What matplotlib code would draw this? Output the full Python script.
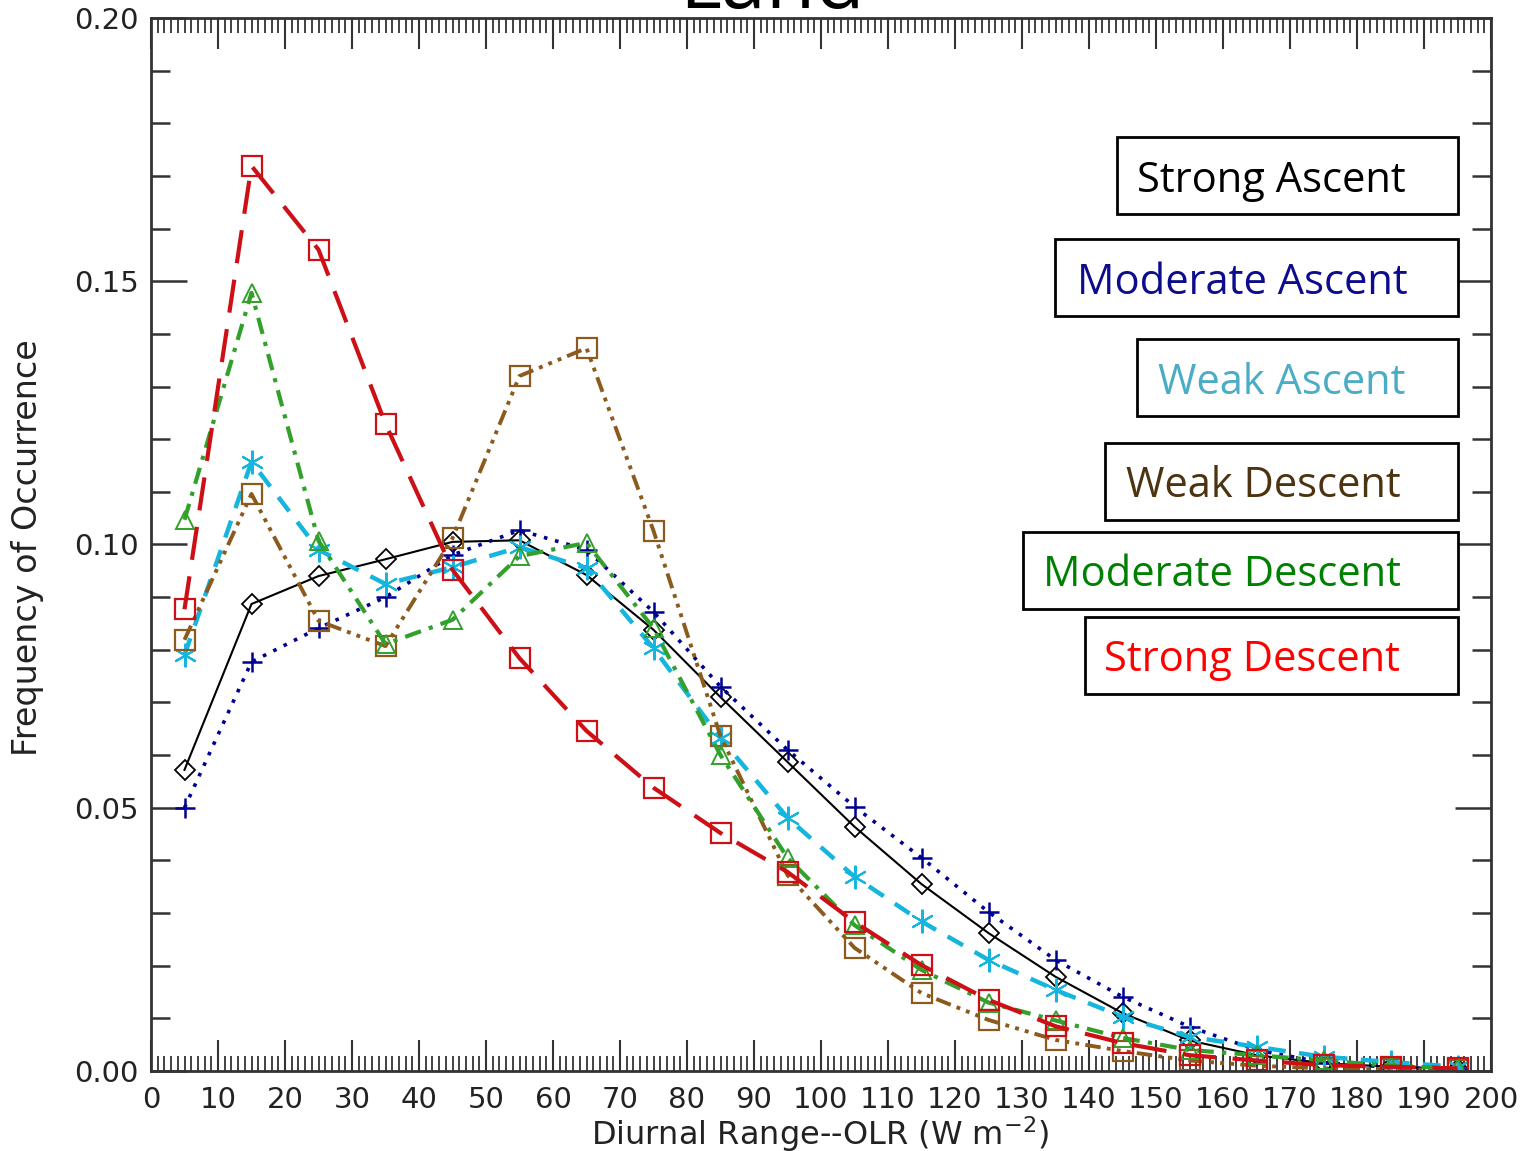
import numpy as np
import matplotlib
matplotlib.use('Agg')
import matplotlib.pyplot as plt
from matplotlib.patches import Rectangle
from matplotlib.ticker import MultipleLocator

# diurnal range bins (W m-2)
olr_bins = [5, 15, 25, 35, 45, 55, 65, 75, 85, 95,
            105, 115, 125, 135, 145, 155, 165, 175, 185, 195]

strong_ascent = [0.0572, 0.0887, 0.0940, 0.0972, 0.1005, 0.1008, 0.0942, 0.0838, 0.0710, 0.0587,
                 0.0464, 0.0355, 0.0262, 0.0179, 0.0110, 0.0058, 0.0030, 0.0015, 0.0008, 0.0004]
moderate_ascent = [0.0500, 0.0777, 0.0841, 0.0900, 0.0980, 0.1027, 0.0990, 0.0872, 0.0730, 0.0610,
                   0.0502, 0.0405, 0.0302, 0.0211, 0.0141, 0.0084, 0.0040, 0.0016, 0.0007, 0.0003]
weak_ascent = [0.0790, 0.1157, 0.0990, 0.0925, 0.0957, 0.0995, 0.0955, 0.0803, 0.0632, 0.0481,
               0.0369, 0.0284, 0.0211, 0.0154, 0.0103, 0.0065, 0.0046, 0.0027, 0.0017, 0.0008]
weak_descent = [0.0819, 0.1096, 0.0855, 0.0807, 0.1012, 0.1320, 0.1373, 0.1026, 0.0636, 0.0372,
                0.0234, 0.0148, 0.0097, 0.0059, 0.0038, 0.0020, 0.0010, 0.0005, 0.0003, 0.0002]
moderate_descent = [0.1047, 0.1478, 0.1007, 0.0811, 0.0857, 0.0978, 0.1003, 0.0841, 0.0600, 0.0405,
                    0.0277, 0.0192, 0.0130, 0.0096, 0.0063, 0.0040, 0.0030, 0.0020, 0.0010, 0.0005]
strong_descent = [0.0877, 0.1719, 0.1560, 0.1229, 0.0952, 0.0784, 0.0646, 0.0538, 0.0452, 0.0378,
                  0.0283, 0.0201, 0.0135, 0.0085, 0.0053, 0.0030, 0.0020, 0.0011, 0.0008, 0.0005]

labels = ['Strong Ascent', 'Moderate Ascent', 'Weak Ascent',
          'Weak Descent', 'Moderate Descent', 'Strong Descent']
label_colors = ['black', '#0c0c8c', '#4bacc6', '#4d3410', '#008000', '#ff0000']

W, H = 1526, 1151
fig = plt.figure(figsize=(W / 100, H / 100), dpi=100)
ax = fig.add_axes([151 / W, 1 - 1071 / H, (1491 - 151) / W, (1071 - 18) / H])

asterisk = (6, 2, 0)
ax.plot(olr_bins, strong_ascent, color='black', lw=1.5, ls='-',
        marker='D', ms=10, mfc='none', mew=1.3)
ax.plot(olr_bins, moderate_ascent, color='#000090', lw=2.6, ls=(0, (1, 2.2)),
        marker='+', ms=15, mew=1.8)
ax.plot(olr_bins, weak_ascent, color='#15b5de', lw=3.2, ls=(0, (4, 3)),
        marker=asterisk, ms=17, mew=1.5)
ax.plot(olr_bins, weak_descent, color='#8c5a1c', lw=2.8, ls=(0, (4, 1.6, 1, 1.6, 1, 1.6, 1, 1.6)),
        marker='s', ms=14, mfc='none', mew=1.6)
ax.plot(olr_bins, moderate_descent, color='#33a02c', lw=3, ls=(0, (4, 2, 1, 2)),
        marker='^', ms=13, mfc='none', mew=1.4)
ax.plot(olr_bins, strong_descent, color='#cc1016', lw=3, ls=(0, (8, 4)),
        marker='s', ms=14, mfc='none', mew=1.6)

ax.set_xlim(0, 200)
ax.set_ylim(0, 0.20)
ax.xaxis.set_major_locator(MultipleLocator(10))
ax.xaxis.set_minor_locator(MultipleLocator(1))
ax.yaxis.set_major_locator(MultipleLocator(0.05))
ax.yaxis.set_minor_locator(MultipleLocator(0.01))
ax.yaxis.set_major_formatter(plt.FuncFormatter(lambda v, p: '%.2f' % v))
ax.tick_params(which='both', direction='in', top=True, right=True, colors='#333333',
               labelcolor='#222222', labelsize=21)
ax.tick_params(axis='x', which='major', length=22, width=1.5, pad=11)
ax.tick_params(axis='x', which='minor', length=11, width=1.3)
ax.tick_params(axis='y', which='major', length=26, width=1.8, pad=9)
ax.tick_params(axis='y', which='minor', length=14, width=1.8)
for s in ax.spines.values():
    s.set_linewidth(2)
    s.set_color('#333333')

# axis titles placed at the reference's pixel positions
fig.text(820 / W, 1 - 1134 / H, 'Diurnal Range--OLR (W m$^{-2}$)', fontsize=23,
         color='#222222', ha='center', va='center')
fig.text(28 / W, 1 - 548 / H, 'Frequency of Occurrence', fontsize=24, rotation=90,
         color='#222222', ha='center', va='center')

fig.text(772 / W, 1 - 8 / H, 'Land', fontsize=58, family='Open Sans',
         ha='center', va='baseline', color='black')

# legend boxes (pixel positions)
boxes = [(1117, 137, 1137, 192), (1055, 239, 1077, 294), (1137, 339, 1158, 394),
         (1105, 443, 1126, 497), (1023, 532, 1043, 586), (1085, 617, 1104, 671)]
for (bx, by, tx, ty), lab, col in zip(boxes, labels, label_colors):
    fig.patches.append(Rectangle((bx / W, 1 - (by + 77) / H), (1458 - bx) / W, 77 / H,
                                 transform=fig.transFigure, fill=True, fc='white',
                                 ec='black', lw=2, zorder=5))
    fig.text(tx / W, 1 - ty / H, lab, fontsize=30, family='Open Sans', color=col,
             ha='left', va='baseline', zorder=6)

fig.savefig('out.png', dpi=100)
